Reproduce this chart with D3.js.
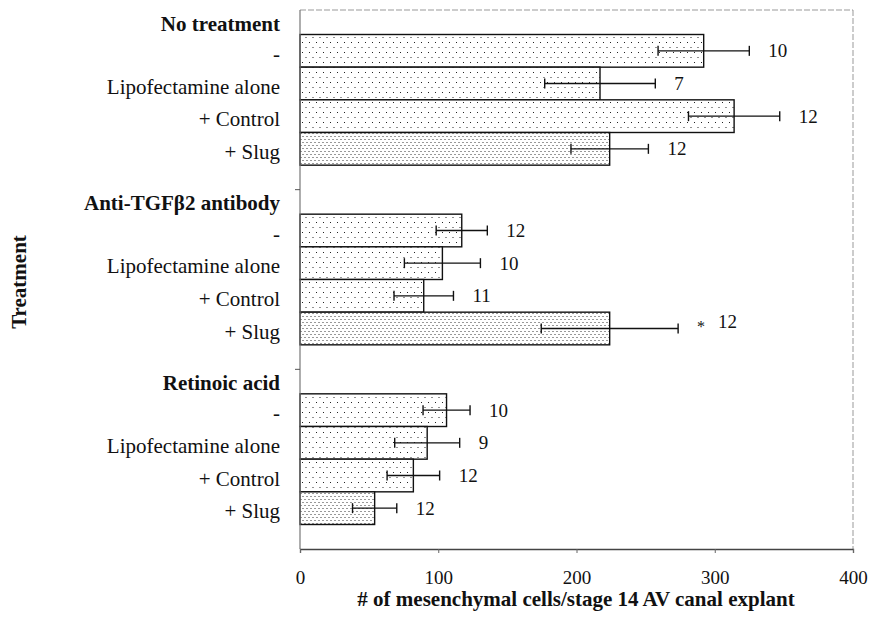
<!DOCTYPE html>
<html>
<head>
<meta charset="utf-8">
<script src="https://cdn.jsdelivr.net/npm/d3@7"></script>
<style>
  html, body { margin: 0; padding: 0; background: #fff; }
  svg { display: block; font-family: "Liberation Serif", "Times New Roman", serif; }
</style>
</head>
<body>
<svg id="chart" width="870" height="622"></svg>
<script>
// Treatment groups and the conditions within each group
const groups = ["No treatment", "Anti-TGFβ2 antibody", "Retinoic acid"];
const conditions = ["-", "Lipofectamine alone", "+ Control", "+ Slug"];

// Mean number of mesenchymal cells per explant, one row per group
const means = [
  [292, 217, 314, 224],
  [117, 103, 89.5, 224],
  [106, 92, 82, 54]
];
// Error bar half-widths
const errors = [
  [33, 40, 33, 28],
  [18.5, 27.5, 21.5, 49.5],
  [17, 23.5, 19, 16]
];
// Number of explants (n) per condition
const counts = [
  [10, 7, 12, 12],
  [12, 10, 11, 12],
  [10, 9, 12, 12]
];
// Significance markers
const significant = [
  [false, false, false, false],
  [false, false, false, true],
  [false, false, false, false]
];
const xTicks = [0, 100, 200, 300, 400];

const svg = d3.select("#chart");
const plotLeft = 300, plotRight = 853, plotTop = 10, plotBottom = 549;
const serif = "'Liberation Serif', 'Times New Roman', serif";

const x = d3.scaleLinear().domain([0, 400]).range([plotLeft, plotRight]);
// Vertical layout in row units: a leading margin, 4 bars per group, gap between groups
const rowsTotal = 16.5;
const y = d3.scaleLinear().domain([0, rowsTotal]).range([plotTop, plotBottom]);
const rowStart = (g, i) => 0.75 + g * 5.5 + i;

// Fill patterns: sparse dots for controls, dense dots for Slug
const defs = svg.append("defs");
const sparse = defs.append("pattern").attr("id", "sparse")
  .attr("patternUnits", "userSpaceOnUse").attr("width", 7).attr("height", 10);
sparse.append("rect").attr("width", 7).attr("height", 10).attr("fill", "#fff");
sparse.append("rect").attr("x", 1).attr("y", 2).attr("width", 1).attr("height", 1).attr("fill", "#222");
sparse.append("rect").attr("x", 4.5).attr("y", 7).attr("width", 1).attr("height", 1).attr("fill", "#222");

const dense = defs.append("pattern").attr("id", "dense")
  .attr("patternUnits", "userSpaceOnUse").attr("width", 4).attr("height", 6);
dense.append("rect").attr("width", 4).attr("height", 6).attr("fill", "#fff");
dense.append("rect").attr("x", 0.5).attr("y", 1).attr("width", 1).attr("height", 1).attr("fill", "#333");
dense.append("rect").attr("x", 2.5).attr("y", 4).attr("width", 1).attr("height", 1).attr("fill", "#333");

// Flatten into rows
const rows = [];
groups.forEach((g, gi) => {
  conditions.forEach((c, ci) => {
    rows.push({
      group: gi, cond: c, idx: ci,
      mean: means[gi][ci], err: errors[gi][ci],
      n: counts[gi][ci], sig: significant[gi][ci],
      r: rowStart(gi, ci)
    });
  });
});

// Plot frame: dashed top and right edges
svg.append("line").attr("x1", plotLeft).attr("x2", plotRight).attr("y1", plotTop).attr("y2", plotTop)
  .attr("stroke", "#999").attr("stroke-width", 1).attr("stroke-dasharray", "6,2");
svg.append("line").attr("x1", plotRight).attr("x2", plotRight).attr("y1", plotTop).attr("y2", plotBottom)
  .attr("stroke", "#999").attr("stroke-width", 1).attr("stroke-dasharray", "6,2");

// Bars
svg.append("g").selectAll("rect").data(rows).join("rect")
  .attr("x", x(0))
  .attr("y", d => y(d.r))
  .attr("width", d => x(d.mean) - x(0))
  .attr("height", d => y(d.r + 1) - y(d.r))
  .attr("fill", d => d.idx === 3 ? "url(#dense)" : "url(#sparse)")
  .attr("stroke", "#111").attr("stroke-width", 1.4);

// Error bars
const eb = svg.append("g").attr("stroke", "#111").attr("stroke-width", 1.4);
rows.forEach(d => {
  const cy = y(d.r + 0.5);
  const x1 = x(d.mean - d.err), x2 = x(d.mean + d.err);
  eb.append("line").attr("x1", x1).attr("x2", x2).attr("y1", cy).attr("y2", cy);
  eb.append("line").attr("x1", x1).attr("x2", x1).attr("y1", cy - 5).attr("y2", cy + 5);
  eb.append("line").attr("x1", x2).attr("x2", x2).attr("y1", cy - 5).attr("y2", cy + 5);
});

// n labels beside error bars
const nl = svg.append("g").attr("font-family", serif).attr("font-size", 19).attr("fill", "#111");
rows.forEach(d => {
  const t = nl.append("text")
    .attr("x", x(d.mean + d.err) + 19)
    .attr("y", y(d.r + 0.5))
    .attr("dy", "0.35em");
  if (d.sig) {
    t.append("tspan").attr("font-size", 16).attr("dy", "0.2em").text("*");
    t.append("tspan").attr("dx", 13).attr("dy", "-0.2em").text(d.n);
  } else {
    t.text(d.n);
  }
});

// Left axis line with ticks between groups
svg.append("line").attr("x1", plotLeft).attr("x2", plotLeft).attr("y1", plotTop).attr("y2", plotBottom)
  .attr("stroke", "#777").attr("stroke-width", 1.2);
[1, 2].forEach(g => {
  const yy = y((rowStart(g - 1, 3) + 1 + rowStart(g, 0)) / 2);
  svg.append("line").attr("x1", plotLeft - 5).attr("x2", plotLeft).attr("y1", yy).attr("y2", yy)
    .attr("stroke", "#555").attr("stroke-width", 1);
});

// Bottom axis
const xAxis = svg.append("g")
  .attr("transform", `translate(0,${plotBottom})`)
  .call(d3.axisBottom(x).tickValues(xTicks).tickSize(4).tickPadding(18).tickFormat(d3.format("d")));
xAxis.attr("font-family", serif).attr("font-size", 19);
xAxis.select(".domain").attr("stroke", "#444").attr("stroke-width", 1.3);
xAxis.selectAll(".tick line").attr("stroke", "#666");
xAxis.selectAll(".tick text").attr("fill", "#111");

// Category labels
const lab = svg.append("g").attr("font-family", serif).attr("font-size", 21)
  .attr("fill", "#111").attr("text-anchor", "end");
groups.forEach((g, gi) => {
  lab.append("text")
    .attr("x", 280)
    .attr("y", y(rowStart(gi, 0)) - 4)
    .attr("font-weight", "bold")
    .text(g);
});
rows.forEach(d => {
  lab.append("text")
    .attr("x", 280)
    .attr("y", y(d.r + 0.5) + 10)
    .text(d.cond);
});

// Axis titles
svg.append("text")
  .attr("x", 576).attr("y", 606)
  .attr("text-anchor", "middle").attr("font-family", serif)
  .attr("font-size", 21).attr("font-weight", "bold")
  .attr("fill", "#111")
  .text("# of mesenchymal cells/stage 14 AV canal explant");

svg.append("text")
  .attr("transform", "translate(26,282) rotate(-90)")
  .attr("text-anchor", "middle").attr("font-family", serif)
  .attr("font-size", 21).attr("font-weight", "bold")
  .attr("fill", "#111")
  .text("Treatment");
</script>
</body>
</html>
